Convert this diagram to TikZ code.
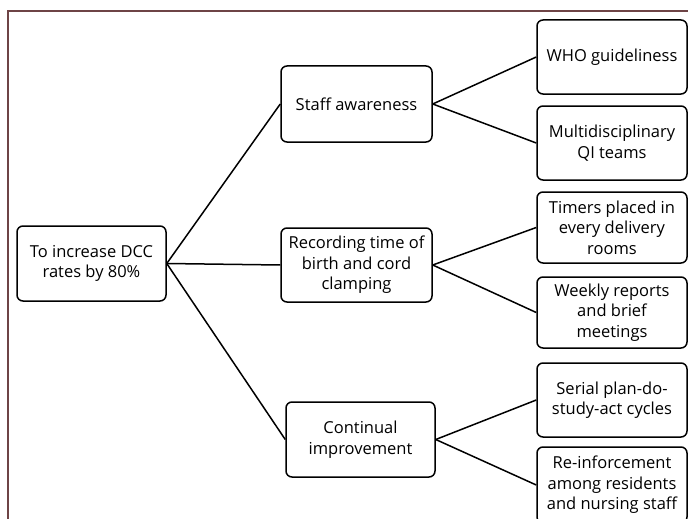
\documentclass[tikz,border=0pt]{standalone}
\usepackage{fontspec}
\setmainfont{Open Sans}
\definecolor{framebrown}{HTML}{6E4446}
\begin{document}
\begin{tikzpicture}[x=1pt, y=-1pt,
        box/.style={draw, rectangle, rounded corners=6pt, line width=1.5pt, align=center,
            font=\fontsize{16.5}{20.5}\selectfont, inner sep=0pt},
        link/.style={line width=1.5pt}]
    \useasboundingbox (0,0) rectangle (688,519);
    % frame
    \draw[framebrown, line width=1.2pt] (688,11) -- (8,11) -- (8,519);

    \node[name=goal, box, minimum width=149pt, minimum height=75pt] at (91.5,263.5) {To increase DCC\\rates by 80\%};

    \node[name=staff, box, minimum width=151pt, minimum height=76pt] at (356.5,104) {Staff awareness};
    \node[name=record, box, minimum width=151pt, minimum height=74pt] at (356.5,265) {Recording time of\\birth and cord\\clamping};
    \node[name=improve, box, minimum width=149pt, minimum height=75pt] at (360.5,439.5) {Continual\\improvement};

    \node[name=who, box, minimum width=150pt, minimum height=74pt] at (612,57) {WHO guideliness};
    \node[name=teams, box, minimum width=150pt, minimum height=74pt] at (612,143) {Multidisciplinary\\QI teams};
    \node[name=timers, box, minimum width=150pt, minimum height=71pt] at (612,227.5) {Timers placed in\\every delivery\\rooms};
    \node[name=weekly, box, minimum width=150pt, minimum height=71pt] at (612,312.5) {Weekly reports\\and brief\\meetings};
    \node[name=pdsa, box, minimum width=150pt, minimum height=74pt] at (612,400) {Serial plan-do-\\study-act cycles};
    \node[name=reinf, box, minimum width=150pt, minimum height=76pt] at (612,485) {Re-inforcement\\among residents\\and nursing staff};

    \foreach \a/\b in {goal/staff, goal/record, goal/improve,
            staff/who, staff/teams, record/timers, record/weekly, improve/pdsa, improve/reinf}
        \draw[link] (\a.east) -- (\b.west);
\end{tikzpicture}
\end{document}
